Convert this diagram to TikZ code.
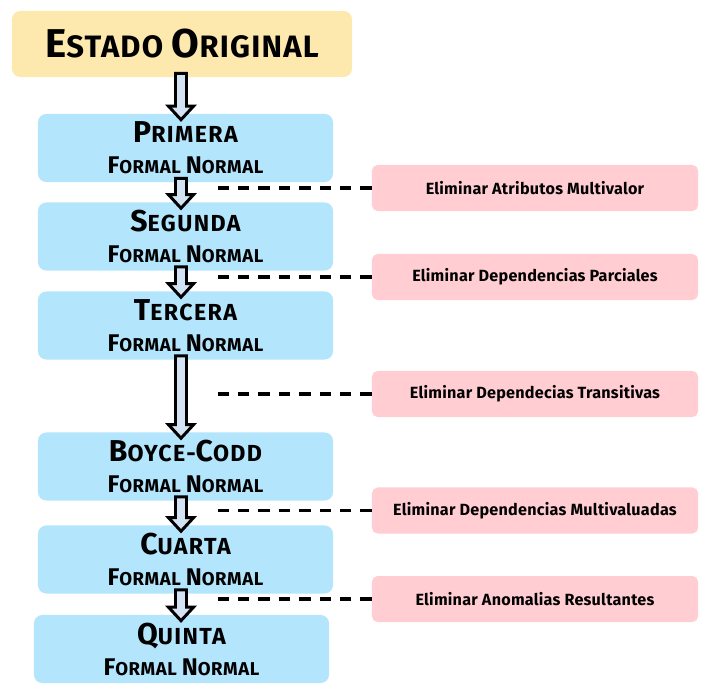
\documentclass[tikz,border=0pt]{standalone}
\usepackage{fontspec}
\setmainfont{Fira Sans}
\usepackage{graphicx}
\usetikzlibrary{calc,positioning}
\definecolor{origYellow} {HTML}{FDE9AE}
\definecolor{formBlue}   {HTML}{B3E5FC}
\definecolor{rulePink}   {HTML}{FFCDD2}
\definecolor{arrowFill}  {HTML}{D3E3F3}
\newcommand\capl[1]{\scalebox{1.3}{#1}}
\newcommand\subfont{\fontsize{13.2}{14}\selectfont\addfontfeature{LetterSpace=3}}
\newcommand\formlabel[2]{\capl{#1}#2\\[5pt]{\subfont\capl{F}ORMAL \capl{N}ORMAL}}
\newcommand\blockarrow[2]{%
  \draw[blockarr] let \p1=($(#1.south)+(0,-4)$), \p2=($(#2.north)+(0,6)$), \p3=(arrx) in
    (\x3-3.9pt,\y1) -- (\x3+3.9pt,\y1) -- (\x3+3.9pt,\y2+9.6pt) -- (\x3+8.9pt,\y2+9.6pt)
    -- (\x3,\y2) -- (\x3-8.9pt,\y2+9.6pt) -- (\x3-3.9pt,\y2+9.6pt) -- cycle;}
\tikzset{
  font=\bfseries,
  orig/.style={rectangle,rounded corners=6pt,draw=none,fill=origYellow,
    minimum width=8.5cm,minimum height=1.65cm,align=center,
    font=\bfseries\fontsize{22}{26}\selectfont\addfontfeature{LetterSpace=4}},
  form/.style={rectangle,rounded corners=6pt,draw=none,fill=formBlue,
    minimum width=7.375cm,minimum height=1.7cm,align=center,
    font=\bfseries\fontsize{16.5}{17}\selectfont\addfontfeature{LetterSpace=6}},
  rule/.style={rectangle,rounded corners=4pt,draw=none,fill=rulePink,
    minimum width=8.15cm,minimum height=1.15cm,align=center,
    font=\bfseries\fontsize{11.5}{13}\selectfont\addfontfeature{LetterSpace=1.5}},
  link/.style={draw=black,line width=2.4pt,dash pattern=on 8pt off 6.5pt},
  blockarr/.style={draw=black,fill=arrowFill,line width=2.1pt,line join=miter},
}

\begin{document}
\begin{tikzpicture}[x=0.025cm,y=-0.025cm]

\fill[white] (0,0) rectangle (719,692);
\useasboundingbox (0,0) rectangle (719,692);

\coordinate (arrx)  at (181,0);
\coordinate (dashx) at (213,0);

\node[orig] (orig) at (182,44) {\capl{E}STADO \capl{O}RIGINAL};

\node[form] (first)  at (185.5,148)   {\formlabel{P}{RIMERA}};
\node[form] (second) at (185.5,236.5) {\formlabel{S}{EGUNDA}};
\node[form] (third)  at (185.5,325.5) {\formlabel{T}{ERCERA}};
\node[form] (bcnf)   at (185.5,466.5) {\formlabel{B}{OYCE-\capl{C}ODD}};
\node[form] (fourth) at (185.5,559.5) {\formlabel{C}{UARTA}};
\node[form] (fifth)  at (181.5,649)   {\formlabel{Q}{UINTA}};

\node[rule] (multi)   at (535,188)   {Eliminar Atributos Multivalor};
\node[rule] (partial) at (535,277)   {Eliminar Dependencias Parciales};
\node[rule] (trans)   at (535,394)   {Eliminar Dependecias Transitivas};
\node[rule] (mvd)     at (535,510.5) {Eliminar Dependencias Multivaluadas};
\node[rule] (anom)    at (535,599)   {Eliminar Anomalias Resultantes};

% block arrows
\blockarrow{orig}{first}
\blockarrow{first}{second}
\blockarrow{second}{third}
\blockarrow{third}{bcnf}
\blockarrow{bcnf}{fourth}
\blockarrow{fourth}{fifth}

% dashed links
\foreach \r in {multi,partial,trans,mvd,anom}
  \draw[link] (\r.west) -- (\r.west -| dashx);

\end{tikzpicture}
\end{document}
